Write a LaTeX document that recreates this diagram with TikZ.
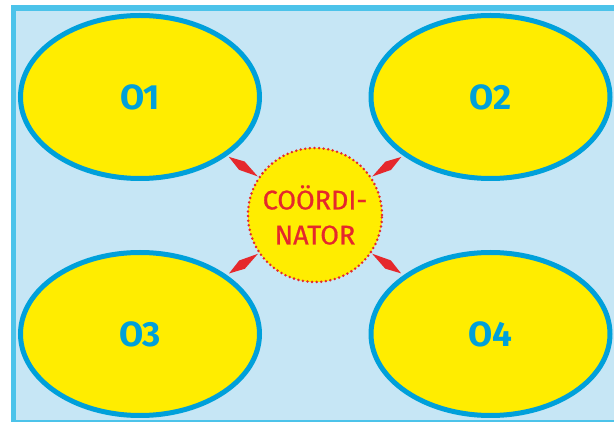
\documentclass[tikz,border=0pt]{standalone}
\usepackage{fontspec}
\setmainfont{Fira Sans}
\newfontfamily\coordfont{Fira Sans}[FakeBold=0.7]
\usetikzlibrary{shapes.geometric,calc}
\definecolor{frameblue}{HTML}{4CC3EA}
\definecolor{bgblue}{HTML}{C6E6F5}
\definecolor{ellblue}{HTML}{00A0DA}
\definecolor{ylw}{HTML}{FFED00}
\definecolor{rd}{HTML}{E5282C}
\tikzset{
  opnode/.style={ellipse, draw=ellblue, line width=5pt, fill=ylw, inner sep=0pt,
    minimum width=239pt, minimum height=163pt, text=ellblue,
    font=\fontsize{35}{42}\selectfont\bfseries},
  coordnode/.style={circle, draw=rd, fill=ylw, line width=2.8pt, line cap=round,
    dash pattern=on 0pt off 4.6pt, minimum size=134pt, inner sep=0pt, text=rd,
    align=center, font=\coordfont\fontsize{27}{35}\selectfont},
  diamondlink/.style={fill=rd}
}
\begin{document}
\begin{tikzpicture}[x=1pt,y=-1pt]
\useasboundingbox (0,0) rectangle (614,422);
\draw[frameblue, line width=5.5pt, fill=bgblue] (13.5,8) rectangle (650,423);
\node[opnode] (o1) at (140,97) {O1};
\node[opnode] (o2) at (490.5,97) {O2};
\node[opnode] (o3) at (140,334) {O3};
\node[opnode] (o4) at (490.5,334) {O4};
\node[coordnode] (c) at (315,215) {COÖRDI-\\NATOR};
\foreach \o in {o1,o2,o3,o4}{
  \coordinate (a) at ($(c)!69pt!(\o)$);
  \coordinate (b) at ($(c)!104pt!(\o)$);
  \fill[diamondlink] (a) -- ($(a)!0.55!(b)!5pt!90:(b)$) -- (b) -- ($(a)!0.55!(b)!5pt!-90:(b)$) -- cycle;
}
\end{tikzpicture}
\end{document}
